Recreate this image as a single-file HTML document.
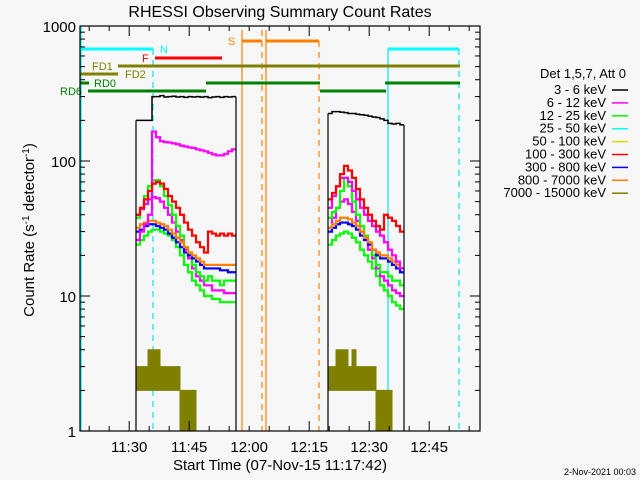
<!DOCTYPE html>
<html><head><meta charset="utf-8"><style>
body{margin:0;background:#f7f7f7;}
svg{display:block;font-family:"Liberation Sans",sans-serif;}
</style></head><body>
<svg id="chart" width="640" height="480" viewBox="0 0 640 480">
<rect x="0" y="0" width="640" height="480" fill="#f7f7f7"/>
<text x="280" y="17" font-size="16" text-anchor="middle" fill="#000">RHESSI Observing Summary Count Rates</text>
<text x="280" y="470" font-size="15" text-anchor="middle" fill="#000">Start Time (07-Nov-15 11:17:42)</text>
<text x="34" y="230" font-size="15" text-anchor="middle" fill="#000" transform="rotate(-90 34 230)">Count Rate (s<tspan dy="-5" font-size="10">-1</tspan><tspan dy="5"> detector</tspan><tspan dy="-5" font-size="10">-1</tspan><tspan dy="5">)</tspan></text>
<text x="636" y="475" font-size="9" text-anchor="end" fill="#000">2-Nov-2021 00:03</text>
<g id="marks"></g>
<g id="axes"></g>
<g id="legend"></g>
</svg>
<script>
// ---- data (time in minutes after 11:17:42; values in counts s^-1 detector^-1) ----
const seg1Times = [14,15,16,17,18,19,20,21,22,23,24,25,26,27,28,29,30,31,32,33,34,35,36,37,38];
const seg2Times = [62,63,64,65,66,67,68,69,70,71,72,73,74,75,76,77,78,79,80];
const black1 = [200,200,200,200,300,300,305,298,300,302,298,300,296,300,298,300,297,300,295,298,300,296,300,298,300];
const magenta1 = [26,30,34,40,165,150,140,138,137,135,133,130,128,126,125,122,120,118,115,112,110,110,113,118,122];
const green1 = [24,26,28,30,31,31,30,29,28,26,23,20,17,15,13,12,11,10,10,9.5,9.5,9,9,9,9];
const cyan1 = [40,44,48,52,54,53,50,45,40,35,30,26,22,19,16,14,13,12,12,11,11,11,10.5,10.5,10.5];
const yellow1 = [38,45,55,65,72,72,65,55,47,40,33,28,23,20,17,15,14,13,14,13,13,12,13,13,13];
const red1 = [40,45,52,60,68,70,68,62,55,50,45,40,35,31,28,25,23,21,30,29,28,29,28,29,28];
const blue1 = [32,34,35,36,36,35,34,33,31,29,27,25,23,21,20,19,18,17,17,17,17,17,17,17,17];
const orange1 = [30,31,33,34,34,33,32,31,29,27,25,23,21,20,19,18,17,16,16,16,16,15.5,15.5,15,15];
const oliveHi1 = [3,3,3,4,4,4,3,3,3,3,3,2,2,2,2];
const oliveLo1 = [2,2,2,2,2,2,2,2,2,2,2,1,1,1,1];
const black2 = [225,232,232,230,228,225,225,222,220,218,215,212,210,205,200,190,188,190,185];
const magenta2 = [45,55,65,75,75,70,60,52,45,40,36,33,30,28,25,22,20,18,16];
const green2 = [24,26,28,29,30,29,27,25,22,20,18,16,14,12,11,10,9,8.5,8];
const cyan2 = [32,38,45,50,52,48,42,36,30,26,22,19,16,14,13,12,11,10.5,10];
const yellow2 = [38,42,45,60,75,65,50,40,33,28,24,20,17,15,15,14,13,13,12];
const red2 = [52,58,65,80,92,85,75,62,52,45,40,36,33,31,40,38,36,33,30];
const blue2 = [32,34,36,38,38,37,35,33,30,27,25,22,21,20,20,19,18,17,16];
const orange2 = [30,32,34,35,35,34,33,31,28,26,24,22,20,19,19,18,17,16,15];
const oliveHi2 = [3,3,4,4,4,3,4,3,3,3,3,3,2,2,2,2];
const oliveLo2 = [2,2,2,2,2,2,2,2,2,2,2,2,1,1,1,1];
const legendLabels = ["3 - 6 keV","6 - 12 keV","12 - 25 keV","25 - 50 keV","50 - 100 keV","100 - 300 keV","300 - 800 keV","800 - 7000 keV","7000 - 15000 keV"];
const legendColors = ["#000000","#ff00ff","#00ff00","#00ffff","#d8d800","#ff0000","#0000ff","#ff8000","#808000"];
const yTickValues = [1,10,100,1000];
const xTickLabels = ["11:30","11:45","12:00","12:15","12:30","12:45"];
const xTickMinutes = [12.3,27.3,42.3,57.3,72.3,87.3];

// ---- axes functions ----
const X0=80, X1=480, Y0=431, DEC=135;
function xs(t){return X0+t*4;}
function ys(v){return Y0-Math.log10(v)*DEC;}
const NS="http://www.w3.org/2000/svg";
function mk(tag,attrs,parent){const e=document.createElementNS(NS,tag);for(const k in attrs)e.setAttribute(k,attrs[k]);parent.appendChild(e);return e;}
const marks=document.getElementById('marks'), axes=document.getElementById('axes'), legend=document.getElementById('legend');

function bar(name,x1,x2,y,c,w){const l=mk('line',{x1:x1,x2:x2,y1:y,y2:y,stroke:c,'stroke-width':w||3},marks);

}
function vline(name,x,c,dash,yt){const l=mk('line',{x1:x,x2:x,y1:yt||26,y2:Y0,stroke:c,'stroke-width':1.2},marks);if(dash)l.setAttribute('stroke-dasharray','6,5');

}
vline('saa-start-line',81,'#00e8f0',false);
vline('night-end-dashed',153,'#00e8f0',true,49);
vline('night-start-line',388,'#00e8f0',false,49);
vline('night-end-dashed-2',459,'#00e8f0',true,49);
vline('saa-line-1',242,'#ff8000',false,30);
vline('saa-dashed-1',262,'#ff8000',true,30);
vline('saa-line-2',266,'#ff8000',false,30);
vline('saa-dashed-2',319,'#ff8000',true,41);
bar('night-bar',80,153,49,'#00ffff',3);
bar('night-bar-2',388,459,49,'#00ffff',3);
bar('flare-bar',155,222,58,'#ff0000',3);
bar('saa-bar-1',242,262,41,'#ff8000',3);
bar('saa-bar-2',266,319,41,'#ff8000',3);
bar('fd1-bar',118,460,66,'#808000',3);
bar('fd2-bar',80,118,74,'#808000',3);
bar('rd0-bar-1',80,89,83,'#008000',3);
bar('rd0-bar-2',206,320,83,'#008000',3);
bar('rd0-bar-3',385,460,83,'#008000',3);
bar('rd6-bar-1',88,206,91,'#008000',3);
bar('rd6-bar-2',320,386,91,'#008000',3);
function lbl(name,txt,x,y,c){const t=mk('text',{x:x,y:y,'font-size':11,fill:c},marks);t.textContent=txt;

}
lbl('night-label','N',160,53,'#00ffff');
lbl('flare-label','F',142,62,'#ff0000');
lbl('saa-label','S',228,45,'#ff8000');
lbl('fd1-label','FD1',92,70,'#808000');
lbl('fd2-label','FD2',125,78,'#808000');
lbl('rd0-label','RD0',94,87,'#008000');
lbl('rd6-label','RD6',60,95,'#008000');

function band(name,times,hi,lo){let d='';const n=hi.length;
for(let i=0;i<n;i++){const t=times[i];d+=(i?'L':'M')+xs(t)+' '+ys(hi[i])+'L'+xs(t+1)+' '+ys(hi[i]);}
for(let i=n-1;i>=0;i--){const t=times[i];d+='L'+xs(t+1)+' '+ys(lo[i])+'L'+xs(t)+' '+ys(lo[i]);}
const p=mk('path',{d:d+'Z',fill:'#808000',stroke:'#808000','stroke-width':1},marks);

}
band('series-7000-15000-seg1',seg1Times,oliveHi1,oliveLo1);
band('series-7000-15000-seg2',seg2Times,oliveHi2,oliveLo2);

function step(name,times,vals,c,w,edges){let d='M'+xs(times[0])+' '+ys(vals[0]);
for(let i=0;i<vals.length;i++){d+='L'+xs(times[i])+' '+ys(vals[i])+'L'+xs(times[i]+1)+' '+ys(vals[i]);}
const p=mk('path',{d:d,fill:'none',stroke:c,'stroke-width':w},marks);


if(edges){const a=xs(times[0]),b=xs(times[vals.length-1]+1);
const e=mk('path',{d:'M'+a+' '+Y0+'L'+a+' '+ys(vals[0])+'M'+b+' '+ys(vals[vals.length-1])+'L'+b+' '+Y0,stroke:c,'stroke-width':1.2,fill:'none'},marks);

}}
const order=[[green1,green2,2],[cyan1,cyan2,1],[yellow1,yellow2,2],[orange1,orange2,6],[blue1,blue2,7],[magenta1,magenta2,1],[red1,red2,5],[black1,black2,0]];
const names=['12-25','25-50','50-100','800-7000','300-800','6-12','100-300','3-6'];
order.forEach((o,k)=>{
const isBlack=o[2]===0;
step('series-'+names[k]+'-seg1',seg1Times,o[0],legendColors[o[2]],isBlack?1.5:2.2,isBlack);
step('series-'+names[k]+'-seg2',seg2Times,o[1],legendColors[o[2]],isBlack?1.5:2.2,isBlack);});

const frame=mk('rect',{x:X0,y:26,width:X1-X0,height:Y0-26,fill:'none',stroke:'#000','stroke-width':1.2},axes);


for(let dec=0;dec<3;dec++){for(let m=1;m<10;m++){const v=Math.pow(10,dec)*m;const y=ys(v);const L=m===1?10:5;
mk('line',{x1:X0,x2:X0+L,y1:y,y2:y,stroke:'#000'},axes);mk('line',{x1:X1-L,x2:X1,y1:y,y2:y,stroke:'#000'},axes);}}
yTickValues.forEach(v=>{const t=mk('text',{x:76,y:ys(v)+6,'font-size':15,'text-anchor':'end',fill:'#000'},axes);t.textContent=String(v);

});
for(let t=2.3;t<100;t+=5){const x=xs(t);const major=Math.abs(((t-12.3)%15+15)%15)<0.01;const L=major?10:5;
mk('line',{x1:x,x2:x,y1:Y0,y2:Y0-L,stroke:'#000'},axes);mk('line',{x1:x,x2:x,y1:26,y2:26+L,stroke:'#000'},axes);}
xTickLabels.forEach((s,i)=>{const t=mk('text',{x:xs(xTickMinutes[i]),y:452,'font-size':15,'text-anchor':'middle',fill:'#000'},axes);t.textContent=s;

});

const lh=mk('text',{x:626,y:78,'font-size':13,'text-anchor':'end',fill:'#000'},legend);lh.textContent='Det 1,5,7, Att 0';


legendLabels.forEach((s,i)=>{const y=90+i*12.9;
const t=mk('text',{x:606,y:y+4,'font-size':13,'text-anchor':'end',fill:'#000'},legend);t.textContent=s;


const l=mk('line',{x1:612,x2:628,y1:y,y2:y,stroke:legendColors[i],'stroke-width':1.5},legend);

});
</script>
</body></html>
